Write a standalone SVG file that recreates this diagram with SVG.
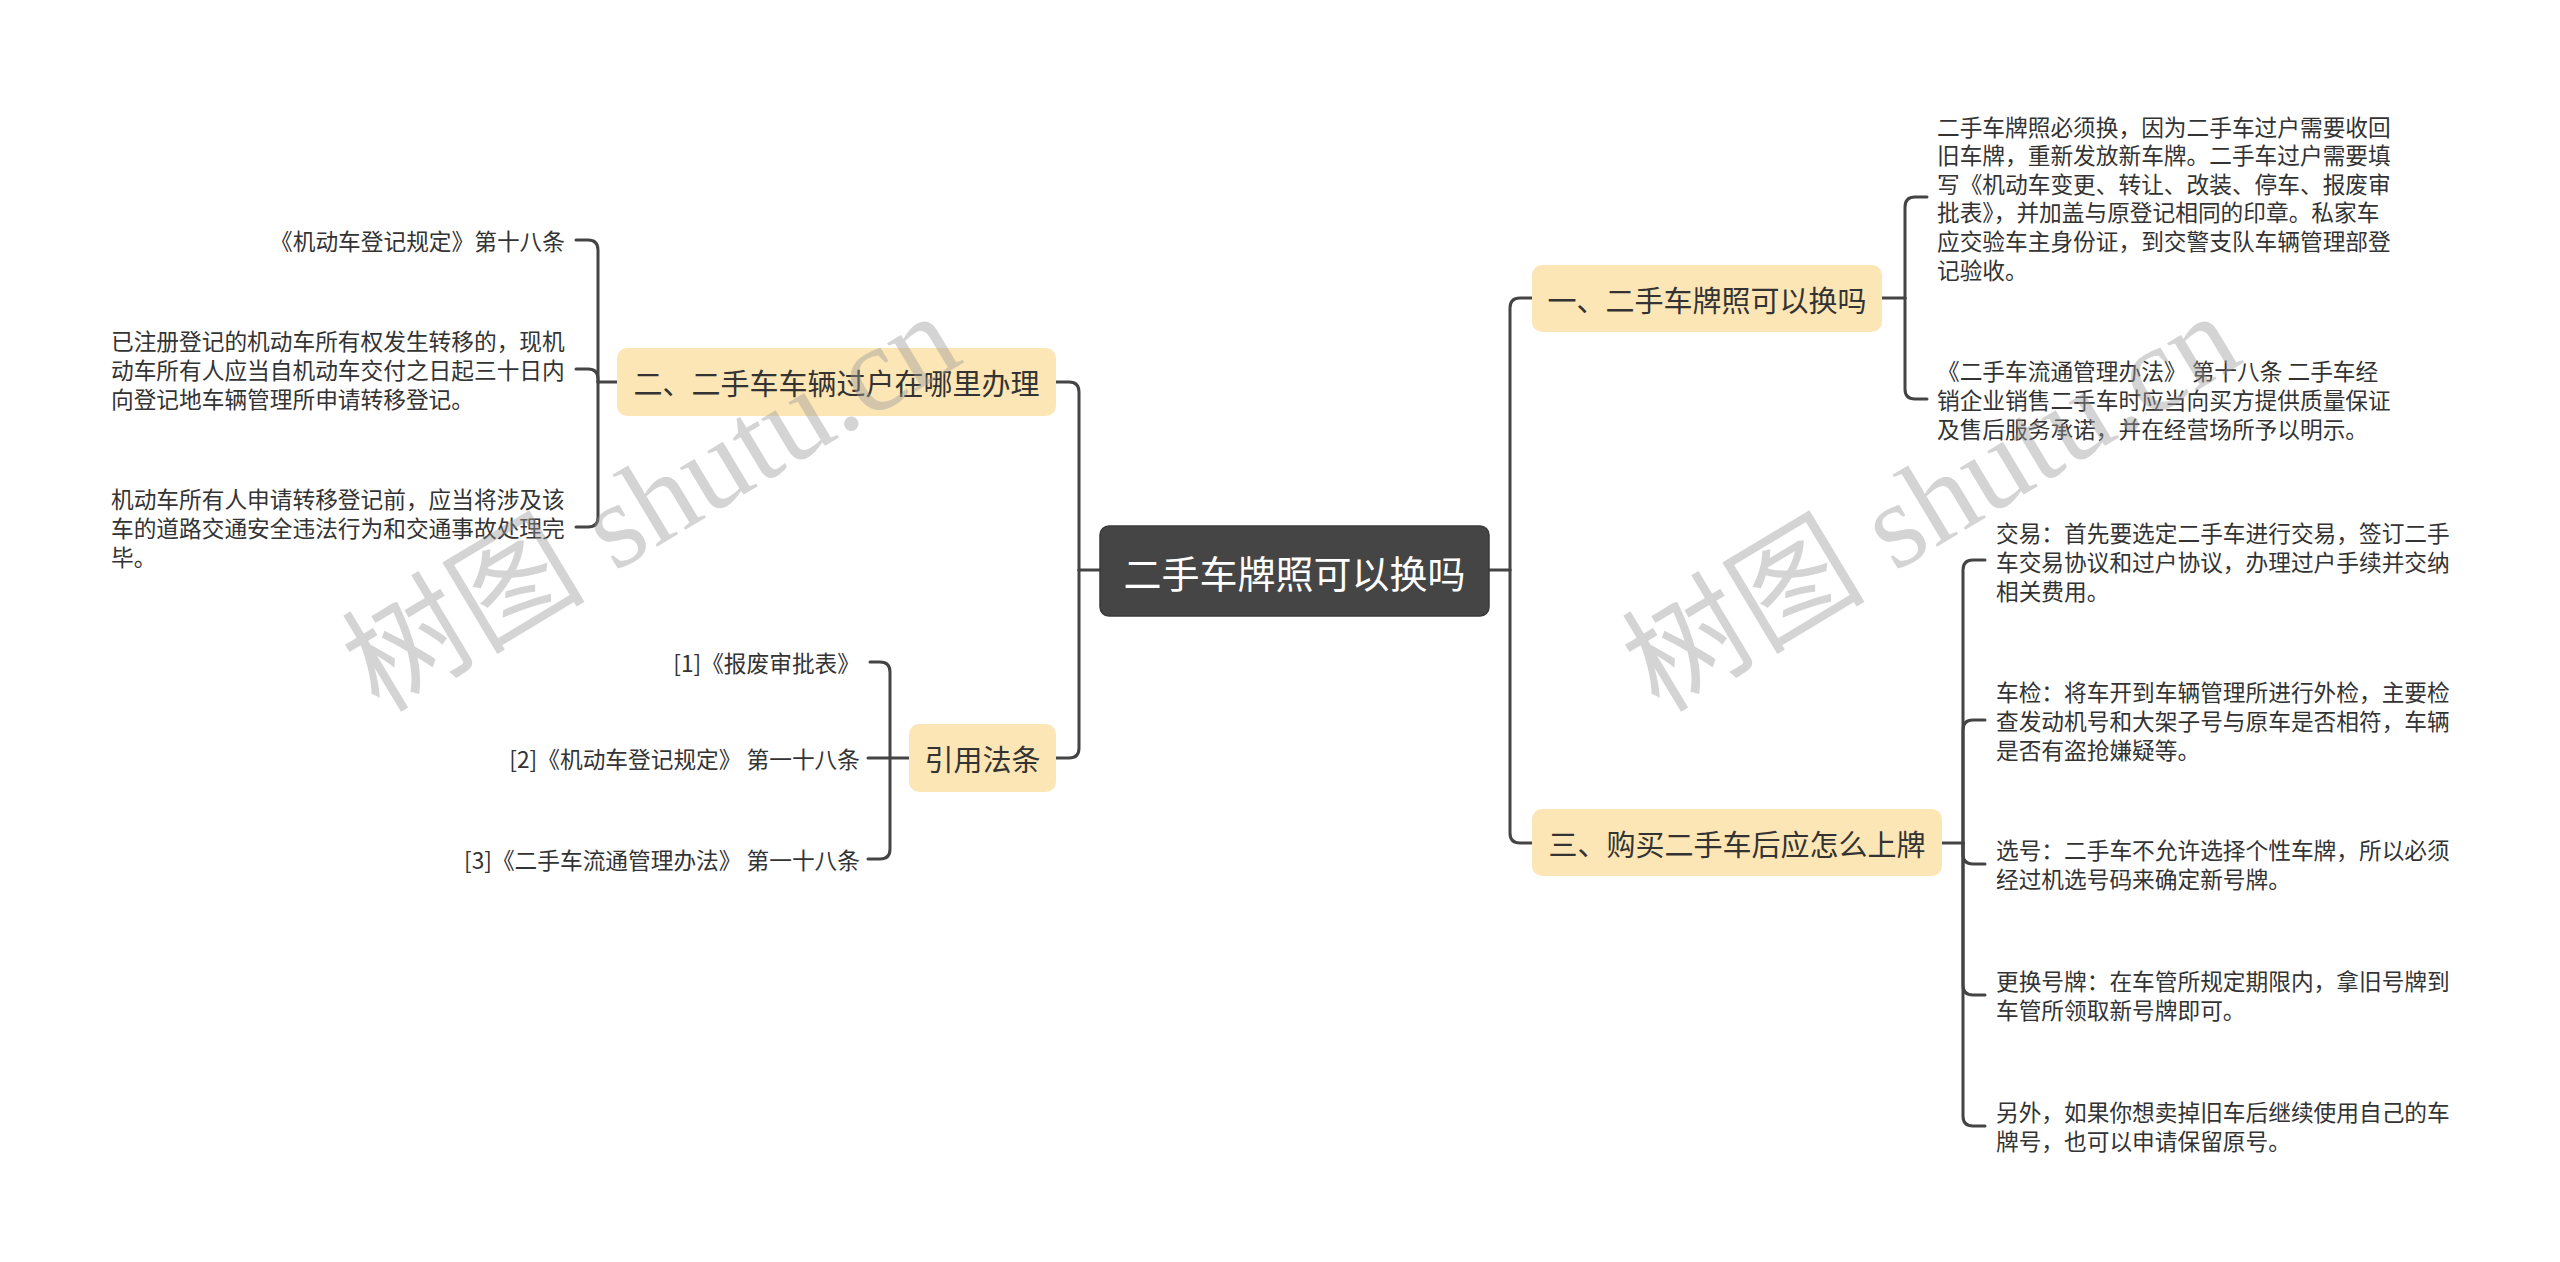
<svg xmlns="http://www.w3.org/2000/svg" width="2560" height="1262" viewBox="0 0 2560 1262">
<style>
.bg{fill:#ffffff}
.conn path{fill:none;stroke:#444444;stroke-width:3;stroke-linecap:round;stroke-linejoin:round}
.topic rect{fill:#FDE6B5}
.topic text{font-family:"Noto Sans CJK SC","Noto Sans",sans-serif;font-size:29px;fill:#333333;text-anchor:middle;dominant-baseline:central}
.root rect{fill:#454545;stroke:#3a3a3a;stroke-width:1.5}
.root text{font-family:"Noto Sans CJK SC","Noto Sans",sans-serif;font-size:38px;fill:#ffffff;text-anchor:middle;dominant-baseline:central}
.leaf text{font-family:"Noto Sans CJK SC","Noto Sans",sans-serif;font-size:22.7px;fill:#333333;dominant-baseline:central}
.end text{text-anchor:end}
.wm{font-family:"Liberation Serif","Noto Sans CJK SC",serif;font-size:122px;fill:#999999;fill-opacity:0.42;text-anchor:middle;dominant-baseline:central}
</style>
<rect class="bg" x="0" y="0" width="2560" height="1262"/>

<g id="connectors" class="conn">
  <path d="M1100,570 H1079"/>
  <path d="M1079,570 V392 Q1079,382 1069,382 H1056"/>
  <path d="M1079,570 V748 Q1079,758 1069,758 H1056"/>
  <path d="M1489,570 H1510"/>
  <path d="M1510,570 V308 Q1510,298 1520,298 H1532"/>
  <path d="M1510,570 V833 Q1510,843 1520,843 H1532"/>
  <path d="M1882,298 H1905"/>
  <path d="M1905,298 V207 Q1905,197 1915,197 H1927"/>
  <path d="M1905,298 V389 Q1905,399 1915,399 H1927"/>
  <path d="M1942,843 H1963"/>
  <path d="M1963,843 V570 Q1963,560 1973,560 H1985"/>
  <path d="M1963,843 V730 Q1963,720 1973,720 H1985"/>
  <path d="M1963,843 V854 Q1963,864 1973,864 H1985"/>
  <path d="M1963,843 V985 Q1963,995 1973,995 H1985"/>
  <path d="M1963,843 V1116 Q1963,1126 1973,1126 H1985"/>
  <path d="M617,382 H598"/>
  <path d="M598,382 V250 Q598,240 588,240 H576"/>
  <path d="M598,382 V379 Q598,369 588,369 H576"/>
  <path d="M598,382 V517 Q598,527 588,527 H576"/>
  <path d="M909,758 H868"/>
  <path d="M890,758 V672 Q890,662 880,662 H870"/>
  <path d="M890,758 V849 Q890,859 880,859 H868"/>
</g>

<g id="root" class="root">
  <rect x="1100" y="526" width="389" height="90" rx="9"/>
  <text x="1294.5" y="571">二手车牌照可以换吗</text>
</g>

<g id="topic1" class="topic">
  <rect x="1532" y="265" width="350" height="67" rx="10"/>
  <text x="1707" y="298.5">一、二手车牌照可以换吗</text>
</g>
<g id="topic3" class="topic">
  <rect x="1532" y="809" width="410" height="67" rx="10"/>
  <text x="1737" y="842.5">三、购买二手车后应怎么上牌</text>
</g>
<g id="topic2" class="topic">
  <rect x="617" y="348" width="439" height="68" rx="10"/>
  <text x="836.5" y="382">二、二手车车辆过户在哪里办理</text>
</g>
<g id="topic4" class="topic">
  <rect x="909" y="724" width="147" height="68" rx="10"/>
  <text x="982.5" y="758">引用法条</text>
</g>

<g id="leaf1a" class="leaf">
  <text x="1937" y="126">二手车牌照必须换，因为二手车过户需要收回</text>
  <text x="1937" y="154.6">旧车牌，重新发放新车牌。二手车过户需要填</text>
  <text x="1937" y="183.2">写《机动车变更、转让、改装、停车、报废审</text>
  <text x="1937" y="211.8">批表》，并加盖与原登记相同的印章。私家车</text>
  <text x="1937" y="240.4">应交验车主身份证，到交警支队车辆管理部登</text>
  <text x="1937" y="269">记验收。</text>
</g>
<g id="leaf1b" class="leaf">
  <text x="1937" y="370">《二手车流通管理办法》 第十八条 二手车经</text>
  <text x="1937" y="399">销企业销售二手车时应当向买方提供质量保证</text>
  <text x="1937" y="428">及售后服务承诺，并在经营场所予以明示。</text>
</g>

<g id="leaf3a" class="leaf">
  <text x="1996" y="532">交易：首先要选定二手车进行交易，签订二手</text>
  <text x="1996" y="561">车交易协议和过户协议，办理过户手续并交纳</text>
  <text x="1996" y="590">相关费用。</text>
</g>
<g id="leaf3b" class="leaf">
  <text x="1996" y="691">车检：将车开到车辆管理所进行外检，主要检</text>
  <text x="1996" y="720">查发动机号和大架子号与原车是否相符，车辆</text>
  <text x="1996" y="749">是否有盗抢嫌疑等。</text>
</g>
<g id="leaf3c" class="leaf">
  <text x="1996" y="849.5">选号：二手车不允许选择个性车牌，所以必须</text>
  <text x="1996" y="878.5">经过机选号码来确定新号牌。</text>
</g>
<g id="leaf3d" class="leaf">
  <text x="1996" y="980.5">更换号牌：在车管所规定期限内，拿旧号牌到</text>
  <text x="1996" y="1009.5">车管所领取新号牌即可。</text>
</g>
<g id="leaf3e" class="leaf">
  <text x="1996" y="1111.5">另外，如果你想卖掉旧车后继续使用自己的车</text>
  <text x="1996" y="1140.5">牌号，也可以申请保留原号。</text>
</g>

<g id="leaf2a" class="leaf end">
  <text x="565" y="240">《机动车登记规定》第十八条</text>
</g>
<g id="leaf2b" class="leaf">
  <text x="111" y="340">已注册登记的机动车所有权发生转移的，现机</text>
  <text x="111" y="369">动车所有人应当自机动车交付之日起三十日内</text>
  <text x="111" y="398">向登记地车辆管理所申请转移登记。</text>
</g>
<g id="leaf2c" class="leaf">
  <text x="111" y="498">机动车所有人申请转移登记前，应当将涉及该</text>
  <text x="111" y="527">车的道路交通安全违法行为和交通事故处理完</text>
  <text x="111" y="556">毕。</text>
</g>

<g id="leaf4a" class="leaf end">
  <text x="860" y="662">[1]《报废审批表》</text>
</g>
<g id="leaf4b" class="leaf end">
  <text x="860" y="758">[2]《机动车登记规定》 第一十八条</text>
</g>
<g id="leaf4c" class="leaf end">
  <text x="860" y="859">[3]《二手车流通管理办法》 第一十八条</text>
</g>

<g id="watermarks">
  <text class="wm" transform="translate(651,502) rotate(-31)">树图 shutu.cn</text>
  <text class="wm" transform="translate(1931,502) rotate(-31)">树图 shutu.cn</text>
</g>
</svg>
